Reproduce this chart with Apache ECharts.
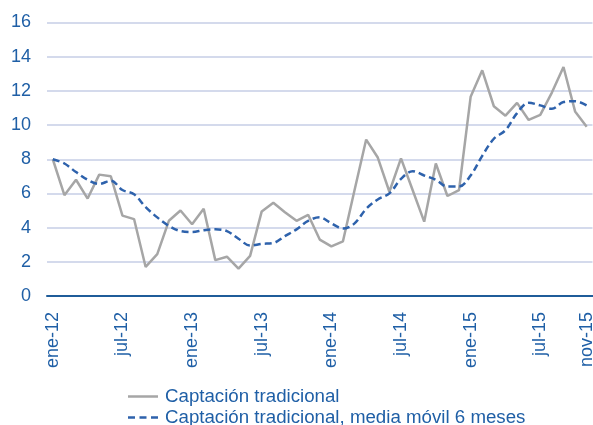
<!DOCTYPE html>
<html>
<head>
<meta charset="utf-8">
<script src="https://cdn.jsdelivr.net/npm/echarts@6/dist/echarts.min.js"></script>
<style>
html,body{margin:0;padding:0;background:#fff;}
#chart{width:593px;height:425px;}
</style>
</head>
<body>
<div id="chart"></div>
<script>
const months = ['ene','feb','mar','abr','may','jun','jul','ago','sep','oct','nov','dic'];
const years = ['12','13','14','15'];
const categories = [];
years.forEach(function (y) { months.forEach(function (m) { categories.push(m + '-' + y); }); });
categories.length = 47; // ene-12 .. nov-15

const seriesNames = ['Captación tradicional', 'Captación tradicional, media móvil 6 meses'];

const captacion = [8.0, 5.9, 6.8, 5.7, 7.1, 7.0, 4.7, 4.5, 1.7, 2.45,
  4.4, 5.0, 4.2, 5.1, 2.1, 2.3, 1.6, 2.35, 4.95, 5.45,
  4.9, 4.4, 4.75, 3.3, 2.9, 3.2, 6.2, 9.15, 8.1, 6.1,
  8.05, 6.2, 4.35, 7.75, 5.85, 6.2, 11.65, 13.2, 11.1, 10.55,
  11.3, 10.3, 10.6, 11.9, 13.4, 10.8, 9.9];

const mediaMovil = [8.0, 7.75, 7.25, 6.8, 6.55, 6.75, 6.2, 5.95, 5.2, 4.6,
  4.1, 3.8, 3.75, 3.85, 3.9, 3.8, 3.35, 2.95, 3.05, 3.1,
  3.5, 3.9, 4.4, 4.6, 4.25, 3.95, 4.25, 5.1, 5.65, 6.0,
  6.85, 7.3, 7.05, 6.8, 6.4, 6.4, 7.05, 8.2, 9.2, 9.7,
  10.7, 11.3, 11.15, 10.95, 11.35, 11.4, 11.15];

const yMin = 0, yMax = 16, yStep = 2;

const blue = '#1F5FA6';
const grayCol = '#A6A6A6';
const dashCol = '#2E62AC';
const legendText = {color: blue, fontSize: 18.7, fontFamily: 'Liberation Sans, Arial, sans-serif', padding: [0, 0, 0, 2]};
function legendFor(name, top, icon, col) {
  return {
    orient: 'vertical',
    left: 128,
    top: top,
    itemWidth: 30,
    itemHeight: 2.5,
    itemGap: 0,
    padding: 0,
    icon: icon,
    itemStyle: {color: col, borderWidth: 0},
    textStyle: legendText,
    data: [name]
  };
}
const chart = echarts.init(document.getElementById('chart'), null, {renderer: 'canvas'});
chart.setOption({
  animation: false,
  backgroundColor: '#ffffff',
  textStyle: {fontFamily: 'Liberation Sans, Arial, sans-serif'},
  grid: {left: 47, right: 0.5, top: 22.5, bottom: 129, containLabel: false, outerBoundsMode: 'none'},
  legend: [
    legendFor(seriesNames[0], 387, 'path://M0,0h30v2.5h-30z', grayCol),
    legendFor(seriesNames[1], 408, 'path://M0,0h7v2.5h-7z M11.5,0h7v2.5h-7z M23,0h7v2.5h-7z', dashCol)
  ],
  xAxis: {
    type: 'category',
    data: categories,
    boundaryGap: true,
    axisLine: {lineStyle: {color: '#1F5C99', width: 2}},
    axisTick: {
      length: 8,
      lineStyle: {color: '#1F5C99', width: 2},
      interval: function (i) { return i % 6 === 0; }
    },
    axisLabel: {
      rotate: 90,
      color: blue,
      fontSize: 18,
      margin: 16,
      interval: function (i) { return i % 6 === 0 || i === 46; }
    },
    splitLine: {show: false}
  },
  yAxis: {
    type: 'value',
    min: yMin,
    max: yMax,
    interval: yStep,
    axisLine: {show: false},
    axisTick: {show: false},
    axisLabel: {color: blue, fontSize: 18, margin: 16},
    splitLine: {lineStyle: {color: '#C6CEE6', width: 1.5}}
  },
  series: [
    {
      name: seriesNames[0],
      type: 'line',
      data: captacion,
      symbol: 'none',
      lineStyle: {color: grayCol, width: 2.5},
      itemStyle: {color: grayCol},
      z: 2
    },
    {
      name: seriesNames[1],
      type: 'line',
      data: mediaMovil,
      symbol: 'none',
      smooth: 0.35,
      lineStyle: {color: dashCol, width: 2.5, type: [7, 4]},
      itemStyle: {color: dashCol},
      z: 3
    }
  ]
});
</script>
</body>
</html>
